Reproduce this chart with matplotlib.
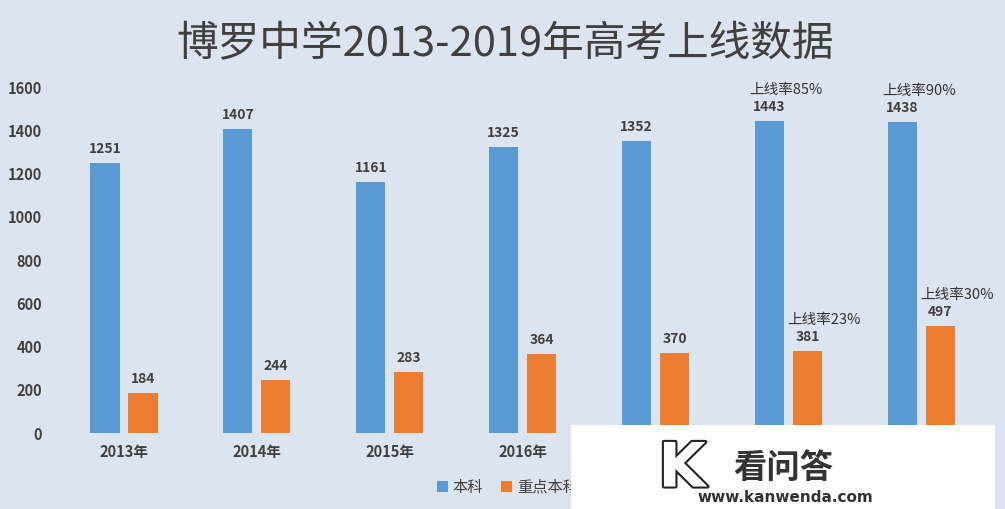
import matplotlib
matplotlib.use('Agg')
from matplotlib import pyplot as plt
from matplotlib import patches, patheffects
import numpy as np

plt.rcParams['font.family'] = ['Noto Sans CJK SC', 'DejaVu Sans']

# 数据
years = ['2013年', '2014年', '2015年', '2016年', '2017年', '2018年', '2019年']
benke = [1251, 1407, 1161, 1325, 1352, 1443, 1438]
zhongdian = [184, 244, 283, 364, 370, 381, 497]
rate_benke = [None, None, None, None, None, '85%', '90%']
rate_zhongdian = [None, None, None, None, None, '23%', '30%']
yticks = [0, 200, 400, 600, 800, 1000, 1200, 1400, 1600]

bg = '#dce4ef'
blue = '#5b9bd5'
orange = '#ed7d31'
dark = '#404040'

fig = plt.figure(figsize=(10.05, 5.09), dpi=100, facecolor=bg)
ax = fig.add_axes([0.0572, 0.1493, 0.9258, 0.6797])
ax.set_facecolor(bg)

x = np.arange(len(years))
w = 0.22
off = 0.143
b1 = ax.bar(x - off, benke, w, color=blue, label='本科')
b2 = ax.bar(x + off, zhongdian, w, color=orange, label='重点本科')

# 数值标签
for bars, vals, rates in [(b1, benke, rate_benke), (b2, zhongdian, rate_zhongdian)]:
    for b, v, r in zip(bars, vals, rates):
        cx = b.get_x() + b.get_width() / 2
        ax.annotate(str(v), (cx, v), xytext=(0, 5), textcoords='offset points',
                    ha='center', va='bottom', fontsize=10, fontweight='bold', color=dark)
        if r:
            ax.annotate('上线率' + r, (cx, v), xytext=(12, 17), textcoords='offset points',
                        ha='center', va='bottom', fontsize=10.5, color='#333333')

ax.set_xlim(-0.5, len(years) - 0.5)
ax.set_ylim(0, 1600)
ax.set_yticks(yticks)
ax.set_yticklabels([str(t) for t in yticks], fontsize=10.5, fontweight='bold', color=dark)
ax.set_xticks(x)
ax.set_xticklabels(years, fontsize=10.5, fontweight='bold', color=dark)
ax.tick_params(axis='both', length=0)
ax.tick_params(axis='y', pad=11)
ax.tick_params(axis='x', pad=8)
for s in ax.spines.values():
    s.set_visible(False)
# 2017、2018 年的刻度标签被水印遮住
for lab in ax.get_xticklabels()[4:6]:
    lab.set_visible(False)

fig.text(0.503, 0.913, '博罗中学2013-2019年高考上线数据', ha='center', va='center',
         fontsize=30, color=dark)

leg = fig.legend(loc='center', bbox_to_anchor=(0.505, 0.043), ncol=2, frameon=False,
                 fontsize=11, handlelength=0.7, handleheight=0.7, handletextpad=0.3,
                 columnspacing=1.2)
for t in leg.get_texts():
    t.set_color(dark)

# 右下角水印
fig.patches.append(patches.Rectangle((571 / 1005, 0), 424 / 1005, 84 / 509,
                                     transform=fig.transFigure, facecolor='white',
                                     edgecolor='none', zorder=10))
k = fig.text(682 / 1005, 1 - 470 / 509, 'K', ha='center', va='center', fontsize=44,
             fontweight='bold', color='white', zorder=11, family='DejaVu Sans')
k.set_path_effects([patheffects.withStroke(linewidth=3, foreground='#222222')])
fig.text(783 / 1005, 1 - 468 / 509, '看问答', ha='center', va='center', fontsize=24,
         fontweight='bold', color='#333333', zorder=11)
fig.text(785 / 1005, 1 - 497 / 509, 'www.kanwenda.com', ha='center', va='center',
         fontsize=11, fontweight='bold', color='#333333', zorder=11, family='DejaVu Sans')

fig.savefig('out.png', dpi=100, facecolor=bg)
